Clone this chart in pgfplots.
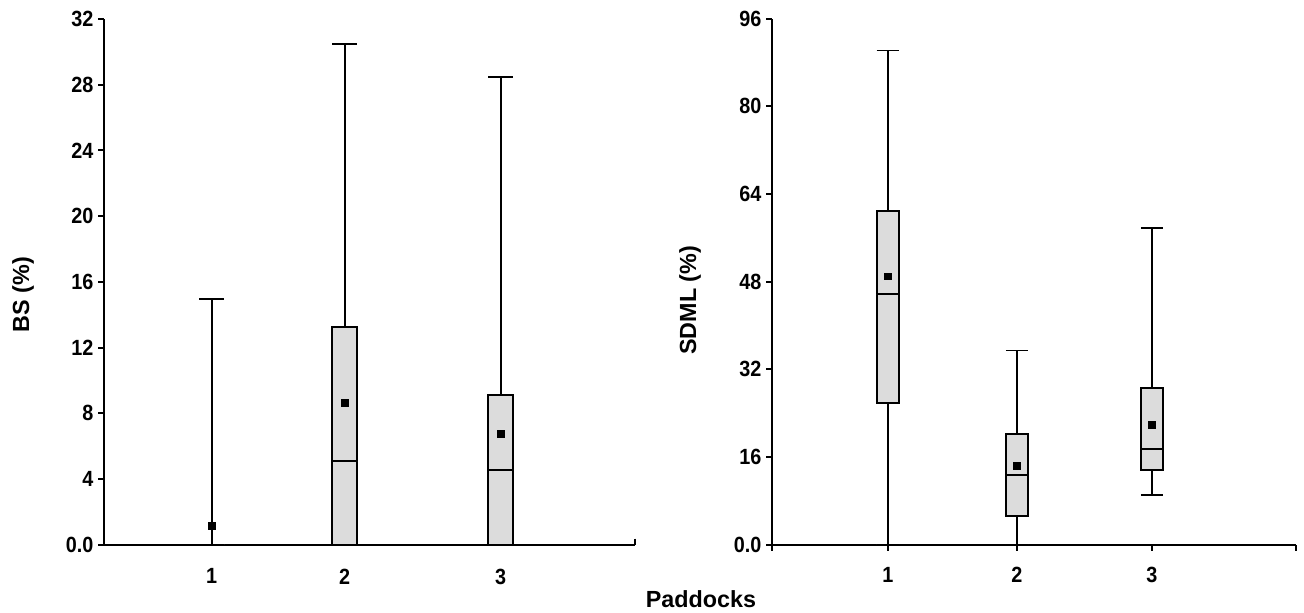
\documentclass[border=0pt]{standalone}
\usepackage{fontspec}
\setmainfont{Liberation Sans}
\newfontfamily\tickfont{Liberation Sans}[FakeStretch=0.9]
\usepackage{pgfplots}
\pgfplotsset{compat=1.18}
\usepgfplotslibrary{statistics}
\definecolor{boxfill}{RGB}{220,220,220}
\pgfplotsset{
  panel/.style={
    scale only axis,
    anchor=south west,
    xmin=0, xmax=100, ymin=0,
    axis x line*=bottom, axis y line*=left,
    axis line style={line width=1.4pt, black},
    major tick style={line width=1.4pt, black},
    major tick length=4.5pt,
    tick align=outside,
    clip=false,
    boxplot/draw direction=y,
    boxplot/every box/.style={draw=black, fill=boxfill, line width=1.4pt},
    boxplot/every whisker/.style={draw=black, line width=1.4pt},
    boxplot/every median/.style={draw=black, line width=1.4pt},
    tick label style={font=\tickfont\bfseries\fontsize{16.5}{18}\selectfont},
    label style={font=\bfseries\fontsize{17.5}{20}\selectfont},
    ylabel style={anchor=center},
  },
  bx/.style={draw=black, fill=boxfill, line width=1.4pt, solid},
  mn/.style={only marks, mark=square*, mark size=2.6pt, mark options={draw=none, fill=black}},
}
\begin{document}
\begin{tikzpicture}
\useasboundingbox (0,0) rectangle (978pt,459.75pt);
% ---------- left panel: BS ----------
\begin{axis}[panel,
  at={(78pt,51.2pt)}, width=398.5pt, height=394.3pt,
  ymax=32,
  ytick={0,4,...,32}, yticklabels={0.0,4,8,12,16,20,24,28,32},
  xtick={20.27,45.3,74.67}, xticklabels={1,2,3},
  xtick style={draw=none},
  xticklabel style={yshift=-10pt},
  extra x ticks={100}, extra x tick labels={},
  extra x tick style={xtick style={draw=black, line width=1.4pt}, major tick length=-4.5pt},
  boxplot/box extend=4.76, boxplot/whisker extend=4.76,
  ylabel={BS (\%)},
  ylabel style={at={(axis description cs:-0.1525,0.476)}},
]
\addplot[bx, boxplot prepared={draw position=20.27, lower whisker=0, lower quartile=0, median=0, upper quartile=0, upper whisker=14.95}] coordinates {};
\addplot[bx, boxplot prepared={draw position=45.3, lower whisker=0, lower quartile=0, median=5.09, upper quartile=13.25, upper whisker=30.47}] coordinates {};
\addplot[bx, boxplot prepared={draw position=74.67, lower whisker=0, lower quartile=0, median=4.55, upper quartile=9.11, upper whisker=28.45}] coordinates {};
\addplot[mn] coordinates {(20.27,1.16) (45.3,8.64) (74.67,6.78)};
\end{axis}
% ---------- right panel: SDML ----------
\begin{axis}[panel,
  at={(579pt,51.2pt)}, width=393.2pt, height=394.5pt,
  ymax=96,
  ytick={0,16,...,96}, yticklabels={0.0,16,32,48,64,80,96},
  xtick={22.12,46.73,72.48}, xticklabels={1,2,3},
  xticklabel style={yshift=-9pt},
  extra x ticks={0,100}, extra x tick labels={,},
  boxplot/box extend=4.29, boxplot/whisker extend=4.29,
  ylabel={SDML (\%)},
  ylabel style={at={(axis description cs:-0.1564,0.465)}},
]
\addplot[bx, boxplot prepared={draw position=22.12, lower whisker=0, lower quartile=25.85, median=45.7, upper quartile=60.9, upper whisker=90.2}] coordinates {};
\addplot[bx, boxplot prepared={draw position=46.73, lower whisker=0, lower quartile=5.29, median=12.71, upper quartile=20.19, upper whisker=35.44}] coordinates {};
\addplot[bx, boxplot prepared={draw position=72.48, lower whisker=9.07, lower quartile=13.62, median=17.51, upper quartile=28.58, upper whisker=57.8}] coordinates {};
\addplot[mn] coordinates {(22.12,49.0) (46.73,14.47) (72.48,21.89)};
\end{axis}
\node[anchor=base, font=\bfseries\fontsize{17.5}{20}\selectfont] at (525.75pt,4pt) {Paddocks};
\end{tikzpicture}
\end{document}
